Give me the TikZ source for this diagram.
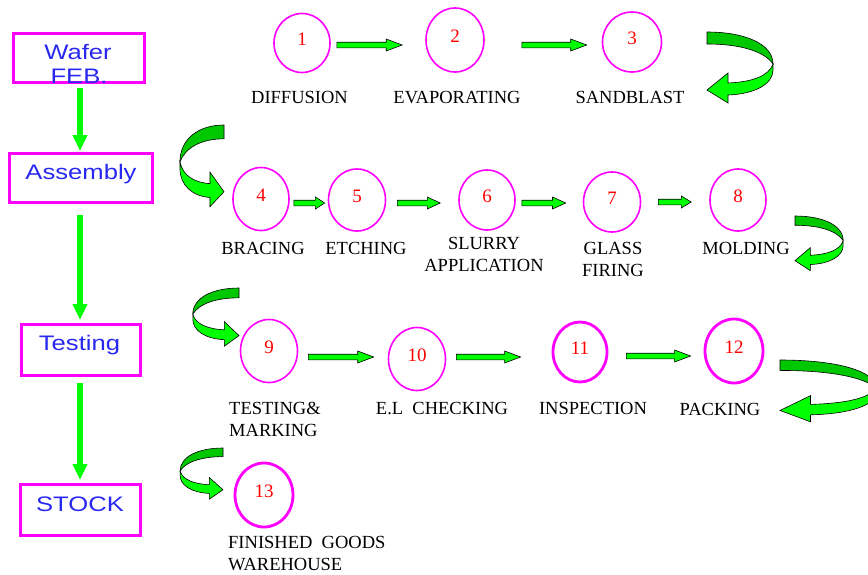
\documentclass[tikz,border=0pt]{standalone}
\usepackage{fontspec}
\setmainfont{Liberation Serif}
\newfontfamily\boxfont[FakeStretch=1.22]{Liberation Sans}
\usetikzlibrary{calc,arrows.meta,shapes.geometric}

\definecolor{flowmagenta}{RGB}{255,0,255}
\definecolor{flowblue}{RGB}{40,40,240}
\definecolor{flowgreen}{RGB}{0,255,0}
\definecolor{flowdkgreen}{RGB}{0,200,0}
\definecolor{flowred}{RGB}{255,0,0}

\tikzset{
  stagebox/.style={draw=flowmagenta, line width=3pt, inner sep=0pt},
  stagetext/.style={font=\boxfont\fontsize{21}{24}\selectfont, text=flowblue, inner sep=0pt, anchor=base},
  stepring/.style={ellipse, draw=flowmagenta, line width=1.6pt, inner sep=0pt,
    text=flowred, font=\fontsize{19}{19}\selectfont, text depth=8pt},
  thickring/.style={stepring, line width=2.8pt},
  steplabel/.style={font=\fontsize{18.5}{22.5}\selectfont, inner sep=0pt, anchor=north, align=center},
  vflow/.style={draw=flowgreen, line width=6pt, -{Triangle[width=14pt,length=16pt]}},
  % straight block arrow drawn between two points, head length grows with the span
  blockarrow/.style={draw=black, line width=0.6pt, fill=flowgreen,
    to path={let \p1=(\tikztostart), \p2=(\tikztotarget), \n1={min(16,0.3*(\x2-\x1))} in
      (\x1,\y1+2.8pt) -- (\x2-\n1,\y1+2.8pt) -- (\x2-\n1,\y1+6pt) -- (\x2,\y1)
      -- (\x2-\n1,\y1-6pt) -- (\x2-\n1,\y1-2.8pt) -- (\x1,\y1-2.8pt) -- cycle}},
  % twisted ribbon arrow making a U-turn to the right
  uturn/.pic={
    \filldraw[fill=flowdkgreen, draw=black, line width=0.6pt]
      (0,0) .. controls (38,0) and (66,12) .. (66,32)
      .. controls (58,20) and (35,12) .. (0,12) -- cycle;
    \filldraw[fill=flowgreen, draw=black, line width=0.6pt]
      (66,32) .. controls (62,44) and (45,50) .. (21,51) -- (21,41) -- (0,58)
      -- (21,71) -- (21,63) .. controls (48,62) and (66,52) .. (66,38) -- cycle;
  }
}

\begin{document}
\begin{tikzpicture}[x=1pt, y=-1pt]
\useasboundingbox (0,0) rectangle (868,574);

% ---- stages on the left
\node[stagebox, minimum width=131pt, minimum height=49pt] (wafer) at (79,58) {};
\node[stagebox, minimum width=143pt, minimum height=49pt] (assembly) at (81,178) {};
\node[stagebox, minimum width=119pt, minimum height=51pt] (testing) at (81,350) {};
\node[stagebox, minimum width=120pt, minimum height=51pt] (stock) at (80.5,510) {};

\node[stagetext] (wafertxt) at (78,59) {Wafer};
\node[stagetext] (febtxt) at (79,83) {FEB.};
\node[stagetext] (assemblytxt) at (81,179.5) {Assembly};
\node[stagetext] (testingtxt) at (79.5,350) {Testing};
\node[stagetext] (stocktxt) at (80,511) {STOCK};

\draw[vflow, shorten <=4pt, shorten >=1pt] (wafer.south -| 80,0) -- (assembly.north -| 80,0);
\draw[vflow, shorten <=11pt, shorten >=3pt] (assembly.south -| 80,0) -- (testing.north -| 80,0);
\draw[vflow, shorten <=6pt, shorten >=3pt] (testing.south -| 80,0) -- (stock.north -| 80,0);

% ---- process steps
\node[stepring, minimum width=56pt, minimum height=59pt] (c1) at (302,43) {1};
\node[stepring, minimum width=58pt, minimum height=64pt] (c2) at (455,40) {2};
\node[stepring, minimum width=59pt, minimum height=60pt] (c3) at (632,42) {3};
\node[stepring, minimum width=56pt, minimum height=63pt] (c4) at (261,199) {4};
\node[stepring, minimum width=57pt, minimum height=62pt] (c5) at (357,200) {5};
\node[stepring, minimum width=56pt, minimum height=60pt] (c6) at (487,200) {6};
\node[stepring, minimum width=57pt, minimum height=60pt] (c7) at (612,202) {7};
\node[stepring, minimum width=56pt, minimum height=62pt] (c8) at (738,200) {8};
\node[stepring, minimum width=57pt, minimum height=63pt] (c9) at (269,351) {9};
\node[stepring, minimum width=57pt, minimum height=63pt] (c10) at (417,359) {10};
\node[thickring, minimum width=54pt, minimum height=60pt] (c11) at (580,352) {11};
\node[thickring, minimum width=58pt, minimum height=64pt] (c12) at (734,351) {12};
\node[thickring, minimum width=58pt, minimum height=64pt] (c13) at (264,495) {13};

% ---- step names
\node[steplabel] (l1) at (299.5,90.7) {DIFFUSION};
\node[steplabel] (l2) at (457,90.7) {EVAPORATING};
\node[steplabel] (l3) at (630,90.7) {SANDBLAST};
\node[steplabel] (l4) at (263,241.7) {BRACING};
\node[steplabel] (l5) at (366,241.7) {ETCHING};
\node[steplabel] (l6) at (484,236.7) {SLURRY\\APPLICATION};
\node[steplabel] (l7) at (613,241.7) {GLASS\\FIRING};
\node[steplabel] (l8) at (746,241.7) {MOLDING};
\node[steplabel, anchor=north west, align=left] (l9) at (229,401.7) {TESTING\&\\MARKING};
\node[steplabel] (l10) at (442,401.7) {E.L~~CHECKING};
\node[steplabel] (l11) at (593,401.7) {INSPECTION};
\node[steplabel] (l12) at (720,402.7) {PACKING};
\node[steplabel, anchor=north west, align=left] (l13) at (228,536) {FINISHED~~GOODS\\WAREHOUSE};

% ---- straight flow arrows
\draw[blockarrow] ([xshift=6pt,yshift=-2pt]c1.east) to ([xshift=-23pt]c2.west);
\draw[blockarrow] ([xshift=37pt,yshift=-5pt]c2.east) to ([xshift=-15pt]c3.west);
\draw[blockarrow] ([xshift=4pt,yshift=-4pt]c4.east) to ([xshift=-3pt]c5.west);
\draw[blockarrow] ([xshift=11pt,yshift=-3pt]c5.east) to ([xshift=-18pt]c6.west);
\draw[blockarrow] ([xshift=6pt,yshift=-3pt]c6.east) to ([xshift=-17pt]c7.west);
\draw[blockarrow] ([xshift=17pt]c7.east) to ([xshift=-18pt]c8.west);
\draw[blockarrow] ([xshift=10pt,yshift=-6pt]c9.east) to ([xshift=-14pt]c10.west);
\draw[blockarrow] ([xshift=10pt,yshift=2pt]c10.east) to ([xshift=-31pt]c11.west);
\draw[blockarrow] ([xshift=18pt,yshift=-4pt]c11.east) to ([xshift=-13pt]c12.west);

% ---- U-turn arrows between rows
\pic at (707,32) {uturn};
\pic[xscale=-0.667, yscale=1.15] at (224,125) {uturn};
\pic[xscale=0.73, yscale=0.77] at (795,216) {uturn};
\pic[xscale=-0.70, yscale=0.82] at (239,288) {uturn};
\pic[xscale=1.45, yscale=0.87] at (780,360) {uturn};
\pic[xscale=-0.65, yscale=0.72] at (223,448) {uturn};
\end{tikzpicture}
\end{document}
